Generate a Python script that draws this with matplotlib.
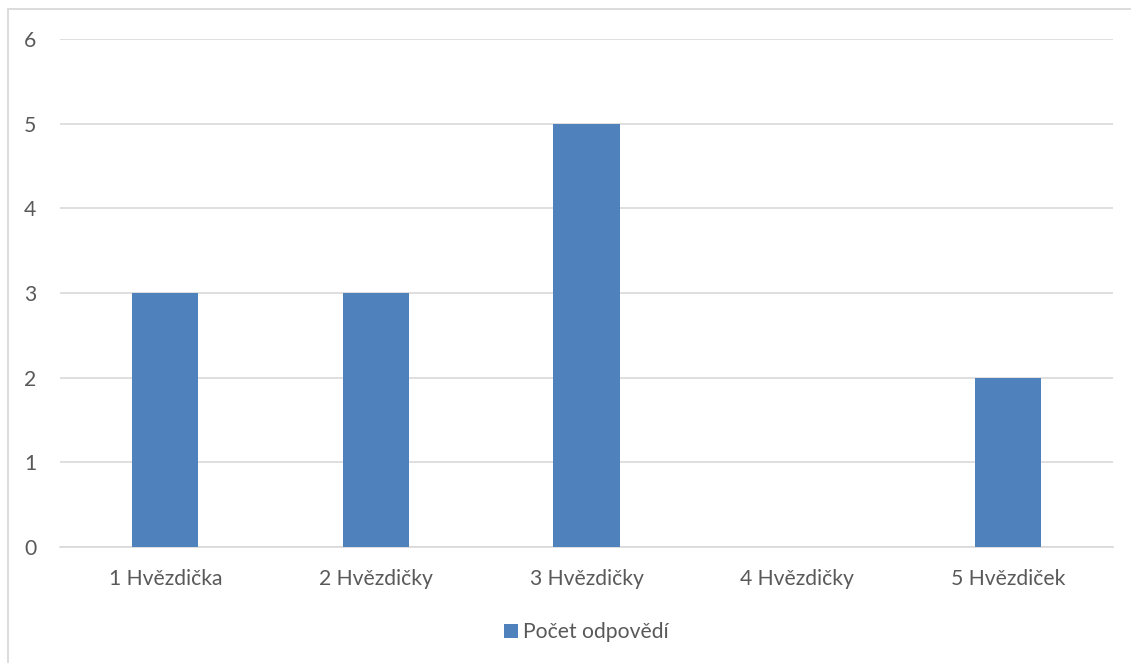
import matplotlib.pyplot as plt
from matplotlib.patches import Rectangle

# data
categories = ["1 Hvězdička", "2 Hvězdičky", "3 Hvězdičky", "4 Hvězdičky", "5 Hvězdiček"]
counts = [3, 3, 5, 0, 2]
series_name = "Počet odpovědí"

W, H = 1131, 663
fig = plt.figure(figsize=(W / 100, H / 100), dpi=100)
plt.rcParams['font.family'] = ['Lato', 'DejaVu Sans']

# chart border (Excel style frame)
fig.patches.append(Rectangle((8 / W, -0.1), 1.2, 1 - 9 / H + 0.1, transform=fig.transFigure,
                             fill=False, edgecolor="#D9D9D9", linewidth=1.3))

ax = fig.add_axes([60 / W, 1 - 547 / H, (1113 - 60) / W, (547 - 39) / H])
x = range(len(categories))
ax.bar(x, counts, width=0.315, color="#4F81BD", label=series_name, zorder=3)

ax.set_xlim(-0.5, len(categories) - 0.5)
ax.set_ylim(0, 6)
ax.set_yticks(range(0, 7))
ax.set_xticks(list(x))
ax.set_xticklabels(categories)
ax.grid(axis="y", color="#D9D9D9", linewidth=1.2, zorder=0)
for s in ["top", "right", "left"]:
    ax.spines[s].set_visible(False)
ax.spines["bottom"].set_color("#D9D9D9")
ax.spines["bottom"].set_linewidth(1.2)
ax.tick_params(axis="both", length=0, labelsize=15.2, labelcolor="#595959")
ax.tick_params(axis="y", pad=17)
ax.tick_params(axis="x", pad=16)

leg = ax.legend(loc="center", bbox_to_anchor=(0.5, -0.168), frameon=False, fontsize=15.2,
                handlelength=0.65, handleheight=0.65, handletextpad=0.25)
for t in leg.get_texts():
    t.set_color("#595959")

fig.savefig("out.png", dpi=100)
